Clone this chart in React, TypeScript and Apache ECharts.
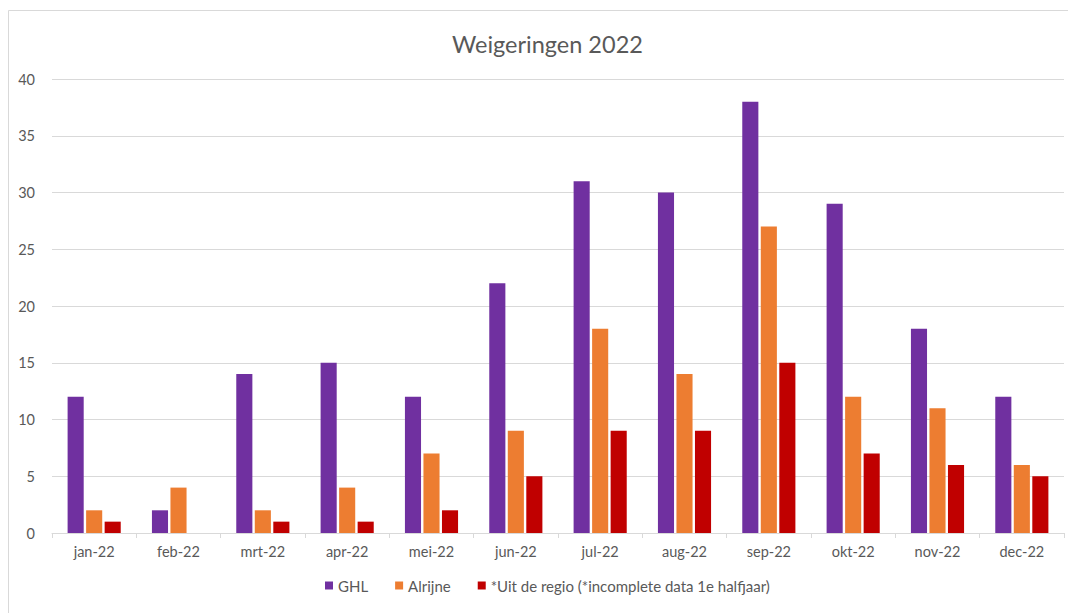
import React, { useEffect, useRef } from "react";
import * as echarts from "echarts";

const categories = ["jan-22", "feb-22", "mrt-22", "apr-22", "mei-22", "jun-22", "jul-22", "aug-22", "sep-22", "okt-22", "nov-22", "dec-22"];
const ghl = [12, 2, 14, 15, 12, 22, 31, 30, 38, 29, 18, 12];
const alrijne = [2, 4, 2, 4, 7, 9, 18, 14, 27, 12, 11, 6];
const uitRegio = [1, 0, 1, 1, 2, 5, 9, 9, 15, 7, 6, 5];
const seriesNames = ["GHL", "Alrijne", "*Uit de regio (*incomplete data 1e halfjaar)"];
const colors = ["#7030A0", "#ED7D31", "#C00000"];

const FONT = "Lato, 'Noto Sans', sans-serif";

export default function App() {
  const ref = useRef<HTMLDivElement>(null);
  useEffect(() => {
    if (!ref.current) return;
    const chart = echarts.init(ref.current, undefined, { renderer: "svg" });
    const data = [ghl, alrijne, uitRegio];
    chart.setOption({
      animation: false,
      textStyle: { fontFamily: FONT },
      title: {
        text: "Weigeringen 2022",
        left: 439,
        top: 19,
        textStyle: { fontFamily: FONT, fontSize: 23.5, fontWeight: "normal", color: "#595959" },
      },
      graphic: [
        {
          type: "rect",
          shape: { x: 0.5, y: 2.5, width: 1200, height: 800 },
          style: { fill: "none", stroke: "#d9d9d9", lineWidth: 1 },
          silent: true,
        },
      ],
      legend: {
        bottom: 15,
        left: 312,
        itemWidth: 8,
        itemHeight: 8,
        itemGap: 27,
        icon: "rect",
        textStyle: { fontFamily: FONT, fontSize: 15, color: "#595959" },
        data: seriesNames,
      },
      grid: { left: 44, right: 12, top: 71, bottom: 80, containLabel: false },
      xAxis: {
        type: "category",
        data: categories,
        axisLine: { lineStyle: { color: "#d9d9d9" } },
        axisTick: { show: true, length: 5, lineStyle: { color: "#d9d9d9" } },
        axisLabel: { color: "#595959", fontSize: 14.5, margin: 11, fontFamily: FONT },
      },
      yAxis: {
        type: "value",
        min: 0,
        max: 40,
        interval: 5,
        axisLine: { show: false },
        axisTick: { show: false },
        splitLine: { lineStyle: { color: "#d9d9d9" } },
        axisLabel: { color: "#595959", fontSize: 14.5, margin: 17, fontFamily: FONT },
      },
      series: seriesNames.map((name, i) => ({
        name,
        type: "bar",
        data: data[i],
        itemStyle: { color: colors[i] },
        barCategoryGap: "37%",
        barGap: "15%",
      })),
    });
    return () => chart.dispose();
  }, []);
  return <div ref={ref} style={{ width: 1068, height: 605 }} />;
}
